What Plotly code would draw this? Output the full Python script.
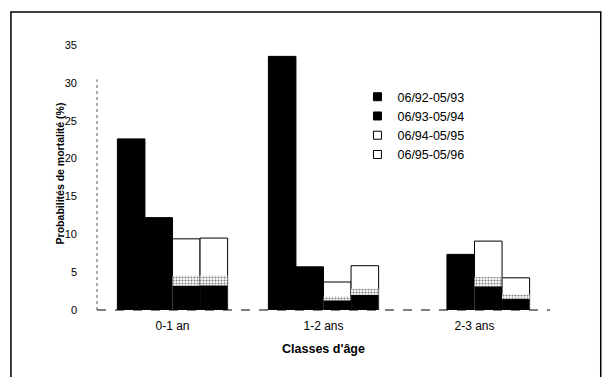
import plotly.graph_objects as go

categories = ["0-1 an", "1-2 ans", "2-3 ans"]
series_names = ["06/92-05/93", "06/93-05/94", "06/94-05/95", "06/95-05/96"]
s1 = [22.6, 33.5, None]
s2 = [12.2, 5.7, 7.35]
s3 = [9.4, 3.7, 9.1]
s4 = [9.5, 5.85, 4.25]
series_values = [s1, s2, s3, s4]
y_ticks = [0, 5, 10, 15, 20, 25, 30, 35]

# style: the scanned white bars look dark at the bottom (gradient fill)
fills = ["black", "black", "white", "white"]
SHADE_SOLID = 0.34
SHADE_SPECKLE = 0.48

FONT = "Liberation Sans, Arial, sans-serif"

fig = go.Figure()
for i, (name, vals) in enumerate(zip(series_names, series_values)):
    fig.add_trace(go.Bar(
        x=categories, y=vals, name=name, offsetgroup=str(i), showlegend=False,
        marker=dict(color=fills[i], line=dict(color="black", width=1)),
    ))
    if fills[i] == "white":
        fig.add_trace(go.Bar(
            x=categories, y=[v * SHADE_SPECKLE for v in vals], offsetgroup=str(i),
            showlegend=False, hoverinfo="skip",
            marker=dict(color="white", line=dict(width=0),
                        pattern=dict(shape=".", fgcolor="black", bgcolor="white",
                                     size=3, solidity=0.4)),
        ))
        fig.add_trace(go.Bar(
            x=categories, y=[v * SHADE_SOLID for v in vals], offsetgroup=str(i),
            showlegend=False, hoverinfo="skip",
            marker=dict(color="black", line=dict(width=0)),
        ))

# legend entries with small square swatches
for i, name in enumerate(series_names):
    fig.add_trace(go.Scatter(
        x=[None], y=[None], mode="markers", name=name, hoverinfo="skip",
        marker=dict(symbol="square", size=8, color=fills[i],
                    line=dict(color="black", width=1)),
    ))

fig.update_layout(
    width=608, height=377,
    margin=dict(l=97, r=58, t=45, b=67),
    paper_bgcolor="white", plot_bgcolor="white",
    barmode="group", bargap=0.27, bargroupgap=0,
    font=dict(family=FONT, size=11, color="black"),
    showlegend=True,
    legend=dict(x=0.575, y=0.86, xanchor="left", yanchor="top",
                bgcolor="rgba(0,0,0,0)", font=dict(size=12.5),
                itemwidth=30, tracegroupgap=0),
    shapes=[
        dict(type="rect", xref="paper", yref="paper",
             x0=-0.19, x1=1.112, y0=-0.3, y1=1.125,
             line=dict(color="black", width=1.5)),
        dict(type="line", xref="paper", yref="paper", x0=0, x1=0, y0=0, y1=0.87,
             line=dict(color="#555", width=1, dash="dot")),
        dict(type="line", xref="paper", yref="paper", x0=0, x1=1, y0=0, y1=0,
             line=dict(color="black", width=1, dash="dash")),
    ],
    annotations=[
        dict(text="<b>Probabilités de mortalité (%)</b>", xref="paper", yref="paper",
             x=-0.082, y=0.515, textangle=-90, showarrow=False,
             xanchor="center", yanchor="middle", font=dict(size=10.5)),
    ],
)
fig.update_xaxes(
    range=[-0.5, 2.5], showgrid=False, showline=False, ticks="",
    tickfont=dict(size=12, family=FONT), ticklabelstandoff=7,
    title=dict(text="<b>Classes d'âge</b>", font=dict(size=12.5), standoff=12),
)
fig.update_yaxes(
    range=[0, 35], tickvals=y_ticks, showgrid=False, zeroline=False,
    showline=False, ticks="", tickfont=dict(size=11, family=FONT),
    ticklabelstandoff=19,
)

fig.write_html("out.html")
